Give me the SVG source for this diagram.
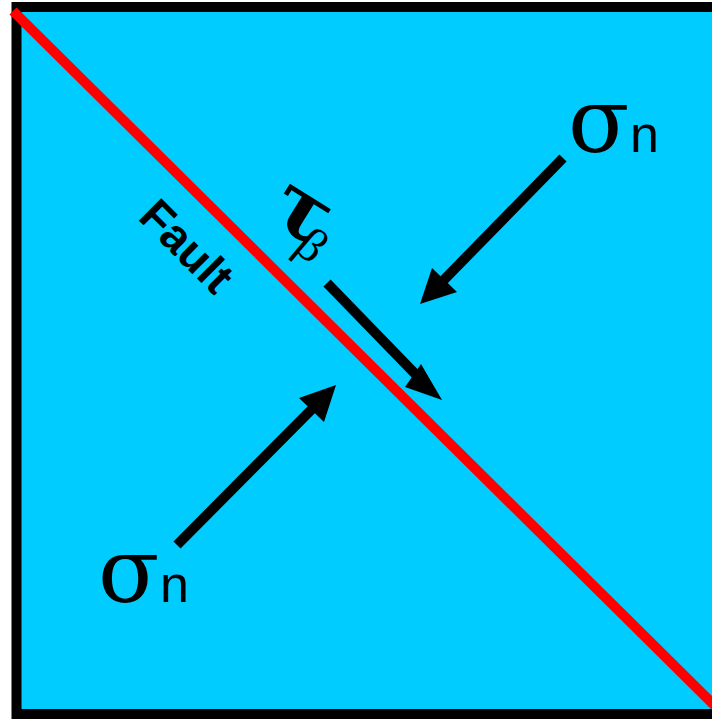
<svg xmlns="http://www.w3.org/2000/svg" width="712" height="719" viewBox="0 0 712 719">
<style>
.frame{fill:#00ccff;stroke:#000;stroke-width:10}
.fault{stroke:#ff0000;stroke-width:10;fill:none}
.shaft{stroke:#000;stroke-width:10;fill:none}
.head{fill:#000;stroke:none}
.sig{font-family:"DejaVu Serif",serif;font-size:90px;fill:#000}
.sub{font-family:"Liberation Sans",sans-serif;font-size:52px;fill:#000}
.lbl{font-family:"Liberation Sans",sans-serif;font-weight:bold;font-size:46px;fill:#000}
.tau{font-family:"DejaVu Serif",serif;font-weight:bold;font-size:82px;fill:#000}
.beta{font-family:"Liberation Serif",serif;font-size:48px;fill:#000}
</style>
<g id="block">
<rect class="frame" x="16.5" y="7" width="705" height="707"/>
</g>
<g id="fault-line">
<line class="fault" x1="13" y1="11" x2="716" y2="707"/>
<text class="lbl" text-anchor="middle" transform="translate(187,246) rotate(45)" x="0" y="16">Fault</text>
</g>
<g id="connectors">
<line class="shaft" x1="563" y1="158" x2="436" y2="288"/>
<polygon class="head" points="420,304 432,268 457,292"/>
<line class="shaft" x1="177" y1="545" x2="320" y2="401"/>
<polygon class="head" points="336,385 299,398 324,422"/>
<line class="shaft" x1="327" y1="283" x2="425" y2="384"/>
<polygon class="head" points="442,400 421,364 405,387"/>
</g>
<g id="sigma-upper">
<text x="568" y="152"><tspan class="sig">σ</tspan><tspan class="sub" x="630">n</tspan></text>
</g>
<g id="sigma-lower">
<text x="98" y="602"><tspan class="sig">σ</tspan><tspan class="sub" x="160">n</tspan></text>
</g>
<g id="tau-label">
<text class="tau" text-anchor="middle" transform="translate(299,216) rotate(32)" x="0" y="20">τ</text>
<text class="beta" text-anchor="middle" transform="translate(309,249) rotate(40)" x="0" y="11">β</text>
</g>
</svg>
